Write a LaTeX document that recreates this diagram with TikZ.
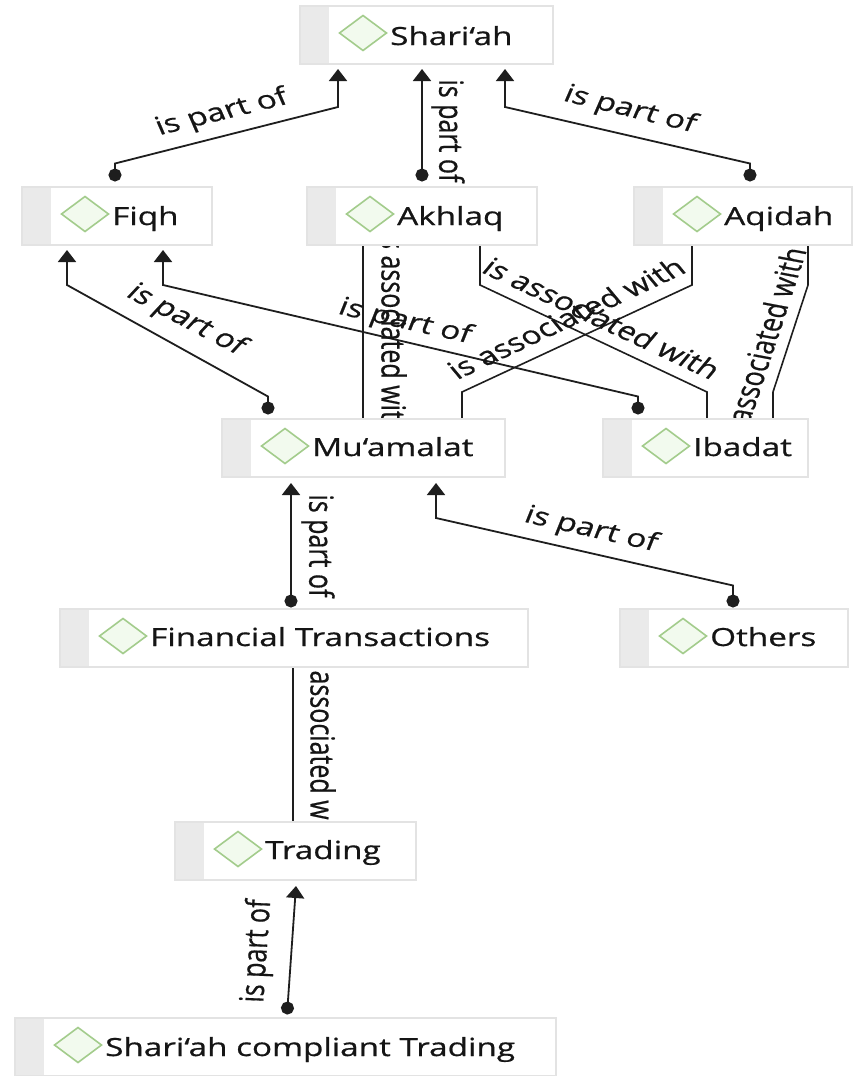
\documentclass[tikz,border=0pt]{standalone}
\usepackage{fontspec}
\setmainfont{Open Sans}[FakeBold=0.6]
\usetikzlibrary{arrows.meta,calc}
\pgfdeclarelayer{back}
\pgfdeclarelayer{bg}
\pgfsetlayers{back,bg,main}
\definecolor{edgec}{HTML}{1E1E1E}
\definecolor{stripc}{HTML}{EAEAEA}
\definecolor{boxline}{HTML}{E3E3E3}
\definecolor{dgreen}{HTML}{A3CC8C}
\definecolor{dfill}{HTML}{F2FAEE}
\definecolor{txtc}{HTML}{151515}
\newcommand{\sx}[1]{\scalebox{1.33}[1]{#1}}
\newcommand{\rl}[2]{\scalebox{1.33}[1]{\rotatebox{#1}{#2}}}
\begin{document}
\begin{tikzpicture}[x=1pt,y=-1pt,
  font=\fontsize{25pt}{30pt}\selectfont,
  cbox/.style={draw=boxline, line width=1.2pt, fill=white, rectangle, anchor=north west,
    inner sep=0pt, outer sep=0pt, minimum height=58pt,
    path picture={\fill[stripc] (path picture bounding box.south west) rectangle ([xshift=29pt]path picture bounding box.north west);}},
  ctext/.style={anchor=base west, inner sep=0pt, text=txtc},
  diam/.style={draw=dgreen, fill=dfill, line width=1.6pt, line join=miter},
  partof/.style={draw=edgec, line width=1.8pt, {Circle[length=13pt]}-{Triangle[width=18pt,length=12pt]}},
  assoc/.style={draw=edgec, line width=1.6pt},
  elabel/.style={inner sep=0pt, text=txtc}
]
\useasboundingbox (0,0) rectangle (854,1076);
\begin{pgfonlayer}{back}
\fill[white] (0,0) rectangle (854,1076);
\end{pgfonlayer}

% boxes
\node[cbox, minimum width=253pt] (shariah) at (300,6) {};
\node[cbox, minimum width=190pt] (fiqh) at (22,187) {};
\node[cbox, minimum width=230pt] (akhlaq) at (307,187) {};
\node[cbox, minimum width=218pt] (aqidah) at (634,187) {};
\node[cbox, minimum width=283pt] (muamalat) at (222,419) {};
\node[cbox, minimum width=205pt] (ibadat) at (603,419) {};
\node[cbox, minimum width=468pt] (financial) at (60,609) {};
\node[cbox, minimum width=228pt] (others) at (620,609) {};
\node[cbox, minimum width=241pt] (trading) at (175,822) {};
\node[cbox, minimum width=541pt] (sct) at (15,1018) {};

% diamonds and texts
\foreach \b in {shariah,fiqh,akhlaq,aqidah,muamalat,ibadat,financial,others,trading,sct}{
  \draw[diam] ($(\b.west)+(63,-2)$) +(-23.5,0) -- +(0,-17.5) -- +(23.5,0) -- +(0,17.5) -- cycle;
}
\node[ctext] (shariahT) at ($(shariah.west)+(90,10)$) {\sx{Shari‘ah}};
\node[ctext] (fiqhT) at ($(fiqh.west)+(90,9)$) {\sx{Fiqh}};
\node[ctext] (akhlaqT) at ($(akhlaq.west)+(90,9)$) {\sx{Akhlaq}};
\node[ctext] (aqidahT) at ($(aqidah.west)+(90,9)$) {\sx{Aqidah}};
\node[ctext] (muamalatT) at ($(muamalat.west)+(90,8)$) {\sx{Mu‘amalat}};
\node[ctext] (ibadatT) at ($(ibadat.west)+(90,8)$) {\sx{Ibadat}};
\node[ctext] (financialT) at ($(financial.west)+(90,8)$) {\sx{Financial Transactions}};
\node[ctext] (othersT) at ($(others.west)+(90,8)$) {\sx{Others}};
\node[ctext] (tradingT) at ($(trading.west)+(90,8)$) {\sx{Trading}};
\node[ctext] (sctT) at ($(sct.west)+(90,9)$) {\sx{Shari‘ah compliant Trading}};

\begin{pgfonlayer}{bg}
% is part of connectors
\draw[partof] ($(fiqh.north west)+(93,-5.5)$) -- ++(0,-18) -- ($(shariah.south west)+(38,43)$) -- ($(shariah.south west)+(38,5)$);
\draw[partof] ($(akhlaq.north west)+(115,-5.5)$) -- ($(shariah.south west)+(122,5)$);
\draw[partof] ($(aqidah.north west)+(116,-5.5)$) -- ++(0,-18) -- ($(shariah.south west)+(205,43)$) -- ($(shariah.south west)+(205,5)$);
\draw[partof] ($(muamalat.north west)+(46,-4.5)$) -- ++(0,-18) -- ($(fiqh.south west)+(45,40)$) -- ($(fiqh.south west)+(45,5)$);
\draw[partof] ($(ibadat.north west)+(35,-4.5)$) -- ++(0,-18) -- ($(fiqh.south west)+(141,40)$) -- ($(fiqh.south west)+(141,5)$);
\draw[partof] ($(financial.north west)+(231,-1.5)$) -- ($(muamalat.south west)+(69,6)$);
\draw[partof] ($(others.north west)+(113,-1.5)$) -- ++(0,-22) -- ($(muamalat.south west)+(214,41)$) -- ($(muamalat.south west)+(214,6)$);
\draw[partof] ($(sct.north west)+(272,-3.5)$) -- ($(trading.south west)+(121,6)$);
% is associated with connectors
\draw[assoc] ($(akhlaq.south west)+(56,0)$) -- ($(muamalat.north west)+(141,0)$);
\draw[assoc] ($(akhlaq.south west)+(173,0)$) -- ++(0,40) -- ($(ibadat.north west)+(104,-27)$) -- ($(ibadat.north west)+(104,0)$);
\draw[assoc] ($(aqidah.south west)+(58,0)$) -- ++(0,40) -- ($(muamalat.north west)+(240,-27)$) -- ($(muamalat.north west)+(240,0)$);
\draw[assoc] ($(aqidah.south west)+(174,0)$) -- ++(0,40) -- ($(ibadat.north west)+(170,-27)$) -- ($(ibadat.north west)+(170,0)$);
\draw[assoc] ($(financial.south west)+(233,0)$) -- ($(trading.north west)+(118,0)$);

% labels
\node[elabel] (l1) at (222,113) {\rl{18}{is part of}};
\node[elabel] (l2) at (448,131) {\rl{-90}{is part of}};
\node[elabel] (l3) at (630,110) {\rl{-18}{is part of}};
\node[elabel] (l4) at (186,320) {\rl{-35}{is part of}};
\node[elabel] (l5) at (405,322) {\rl{-16.7}{is part of}};
\node[elabel] (l6) at (394,333) {\rl{-90}{is associated with}};
\node[elabel] (l7) at (602,318) {\rl{-32}{is associated with}};
\node[elabel] (l8) at (566,318) {\rl{32}{is associated with}};
\node[elabel] (l9) at (762,347) {\rl{76}{is associated with}};
\node[elabel] (l10) at (318,546) {\rl{-90}{is part of}};
\node[elabel] (l11) at (591,530) {\rl{-16.7}{is part of}};
\node[elabel] (l12) at (323,748) {\rl{-90}{is associated with}};
\node[elabel] (l13) at (258,951) {\rl{87}{is part of}};
\end{pgfonlayer}
\end{tikzpicture}
\end{document}
